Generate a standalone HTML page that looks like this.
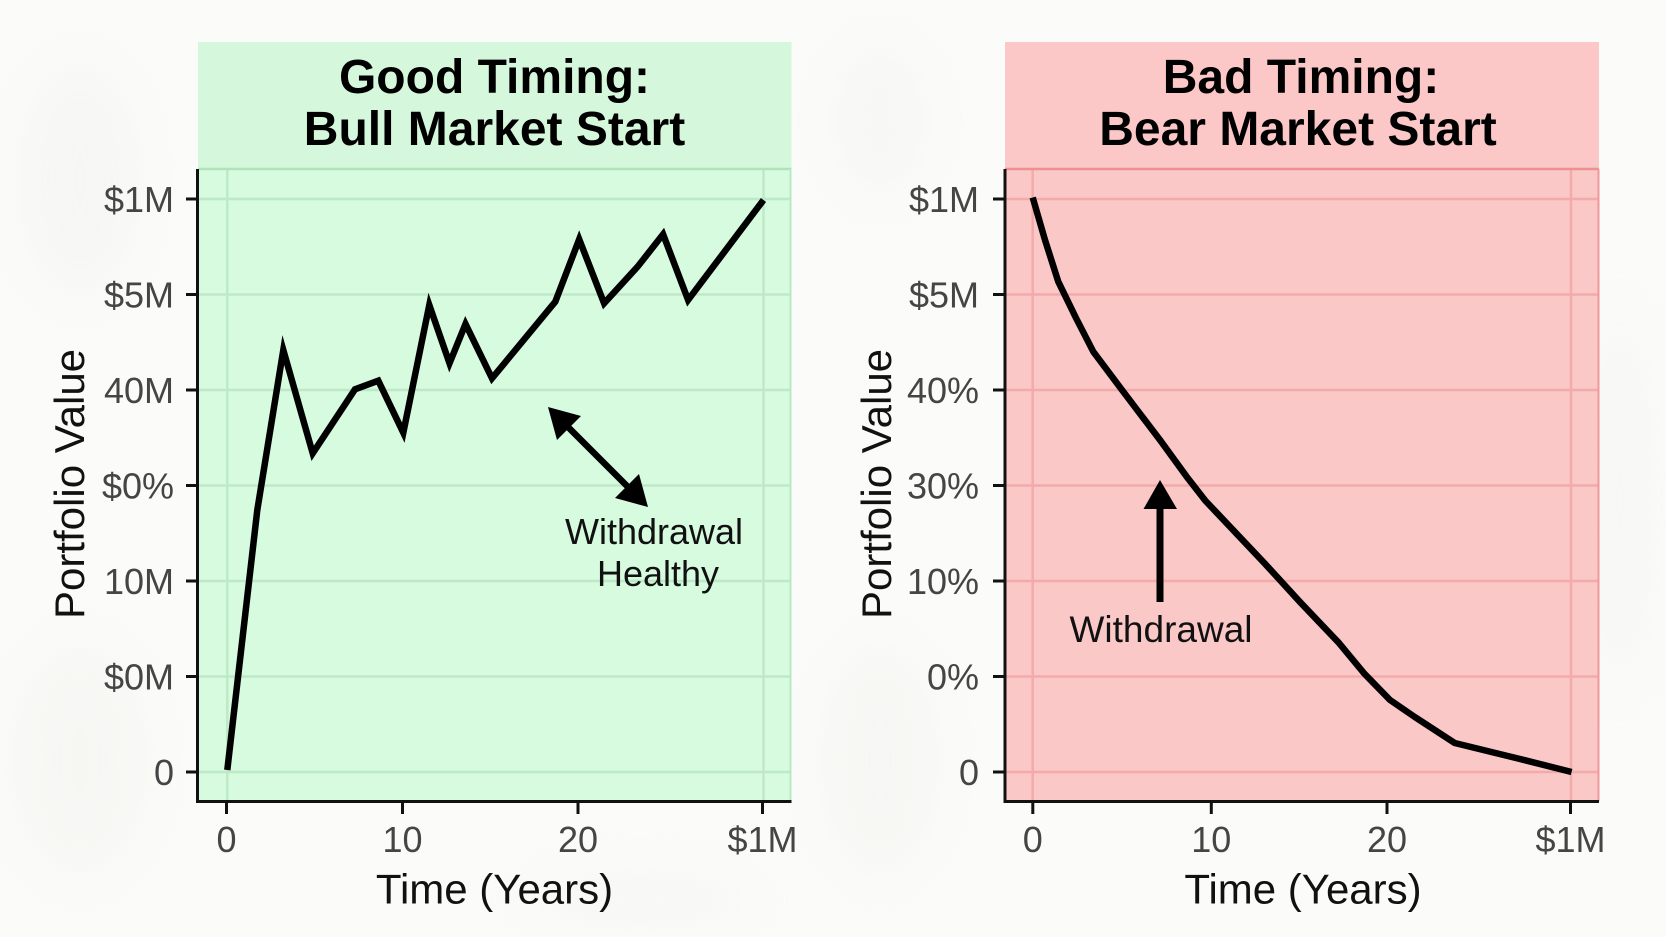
<!DOCTYPE html>
<html>
<head>
<meta charset="utf-8">
<style>
  html,body{margin:0;padding:0;background:#fbfbf9;}
  svg{display:block;}
  text{font-family:"Liberation Sans", Arial, sans-serif;}
</style>
</head>
<body>
<svg width="1666" height="937" viewBox="0 0 1666 937" xmlns="http://www.w3.org/2000/svg">
  <defs>
    <filter id="blur" x="-50%" y="-50%" width="200%" height="200%"><feGaussianBlur stdDeviation="25"/></filter>
  </defs>
  <rect x="0" y="0" width="1666" height="937" fill="#fbfbf9"/>
  <g filter="url(#blur)" opacity="0.35">
    <ellipse cx="80" cy="180" rx="60" ry="120" fill="#eeeeea"/>
    <ellipse cx="80" cy="760" rx="70" ry="120" fill="#efefea"/>
    <ellipse cx="880" cy="120" rx="50" ry="80" fill="#f0f0ec"/>
    <ellipse cx="880" cy="760" rx="60" ry="120" fill="#efefea"/>
    <ellipse cx="640" cy="900" rx="120" ry="30" fill="#f0f0ec"/>
    <ellipse cx="1620" cy="500" rx="40" ry="200" fill="#f1f1ed"/>
  </g>

  <!-- ================= LEFT PANEL ================= -->
  <rect x="198" y="42" width="593.5" height="127" fill="#d5f8dc"/>
  <rect x="198" y="169" width="593.5" height="632" fill="#d7fbdf"/>
  <g stroke="#bde9c7" stroke-width="2.5" fill="none">
    <line x1="198" y1="199" x2="791.5" y2="199"/>
    <line x1="198" y1="294.5" x2="791.5" y2="294.5"/>
    <line x1="198" y1="390" x2="791.5" y2="390"/>
    <line x1="198" y1="485.5" x2="791.5" y2="485.5"/>
    <line x1="198" y1="581" x2="791.5" y2="581"/>
    <line x1="198" y1="676.5" x2="791.5" y2="676.5"/>
    <line x1="198" y1="772" x2="791.5" y2="772"/>
    <line x1="227.3" y1="169" x2="227.3" y2="801"/>
    <line x1="763.5" y1="169" x2="763.5" y2="801"/>
  </g>
  <line x1="198" y1="169" x2="791.5" y2="169" stroke="#afe3bb" stroke-width="2.5"/>
  <line x1="790.5" y1="169" x2="790.5" y2="801" stroke="#b8e8c3" stroke-width="2"/>
  <!-- axes -->
  <g stroke="#111" stroke-width="3" fill="none">
    <line x1="197.5" y1="169" x2="197.5" y2="803"/>
    <line x1="196" y1="801.5" x2="791.5" y2="801.5"/>
    <line x1="186" y1="199" x2="198" y2="199"/>
    <line x1="186" y1="294.5" x2="198" y2="294.5"/>
    <line x1="186" y1="390" x2="198" y2="390"/>
    <line x1="186" y1="485.5" x2="198" y2="485.5"/>
    <line x1="186" y1="581" x2="198" y2="581"/>
    <line x1="186" y1="676.5" x2="198" y2="676.5"/>
    <line x1="186" y1="772" x2="198" y2="772"/>
    <line x1="226.5" y1="801" x2="226.5" y2="814"/>
    <line x1="402.5" y1="801" x2="402.5" y2="814"/>
    <line x1="578" y1="801" x2="578" y2="814"/>
    <line x1="762.5" y1="801" x2="762.5" y2="814"/>
  </g>
  <g font-size="36" fill="#454545" text-anchor="end">
    <text x="174" y="212">$1M</text>
    <text x="174" y="307.5">$5M</text>
    <text x="174" y="403">40M</text>
    <text x="174" y="498.5">$0%</text>
    <text x="174" y="594">10M</text>
    <text x="174" y="689.5">$0M</text>
    <text x="174" y="785">0</text>
  </g>
  <g font-size="36" fill="#454545" text-anchor="middle">
    <text x="226.5" y="852">0</text>
    <text x="402.5" y="852">10</text>
    <text x="578" y="852">20</text>
    <text x="762.5" y="852">$1M</text>
  </g>
  <text x="494.5" y="93" font-size="48" font-weight="bold" fill="#000" text-anchor="middle">Good Timing:</text>
  <text x="494.5" y="145" font-size="48" font-weight="bold" fill="#000" text-anchor="middle">Bull Market Start</text>
  <text x="494.5" y="903.5" font-size="42" fill="#111" text-anchor="middle">Time (Years)</text>
  <text transform="translate(84,484) rotate(-90)" font-size="42" fill="#111" text-anchor="middle">Portfolio Value</text>

  <polyline fill="none" stroke="#000" stroke-width="6.5" stroke-linejoin="miter" stroke-miterlimit="6" stroke-linecap="butt"
    points="227.3,770 257.3,510 283.3,350 312.7,453.3 355,389.3 378.3,380.7 403.3,432.7 429.3,305 449.5,363.3 465.5,324 492,378.3 555.3,301.7 579.2,239.3 604.1,303.3 637.6,266.7 663.1,234.3 688.1,300 763.5,200"/>

  <!-- double arrow -->
  <line x1="565" y1="424" x2="631" y2="490" stroke="#000" stroke-width="6.5"/>
  <polygon points="548,407 581,416 557,440" fill="#000"/>
  <polygon points="648,507 615,498 639,474" fill="#000"/>
  <text x="654" y="544" font-size="36" fill="#111" text-anchor="middle">Withdrawal</text>
  <text x="658" y="586" font-size="36" fill="#111" text-anchor="middle">Healthy</text>

  <!-- ================= RIGHT PANEL ================= -->
  <rect x="1005" y="42" width="594" height="127" fill="#fbc7c7"/>
  <rect x="1005" y="169" width="594" height="632" fill="#fbc8c8"/>
  <g stroke="#f3aaaa" stroke-width="2.5" fill="none">
    <line x1="1005" y1="199" x2="1599" y2="199"/>
    <line x1="1005" y1="294.5" x2="1599" y2="294.5"/>
    <line x1="1005" y1="390" x2="1599" y2="390"/>
    <line x1="1005" y1="485.5" x2="1599" y2="485.5"/>
    <line x1="1005" y1="581" x2="1599" y2="581"/>
    <line x1="1005" y1="676.5" x2="1599" y2="676.5"/>
    <line x1="1005" y1="772" x2="1599" y2="772"/>
    <line x1="1032.7" y1="169" x2="1032.7" y2="801"/>
    <line x1="1571" y1="169" x2="1571" y2="801"/>
  </g>
  <line x1="1005" y1="169" x2="1599" y2="169" stroke="#ec9090" stroke-width="2.5"/>
  <line x1="1598.5" y1="169" x2="1598.5" y2="801" stroke="#ee9a9a" stroke-width="2"/>
  <g stroke="#111" stroke-width="3" fill="none">
    <line x1="1005" y1="169" x2="1005" y2="803"/>
    <line x1="1003.5" y1="801.5" x2="1599" y2="801.5"/>
    <line x1="993" y1="199" x2="1005" y2="199"/>
    <line x1="993" y1="294.5" x2="1005" y2="294.5"/>
    <line x1="993" y1="390" x2="1005" y2="390"/>
    <line x1="993" y1="485.5" x2="1005" y2="485.5"/>
    <line x1="993" y1="581" x2="1005" y2="581"/>
    <line x1="993" y1="676.5" x2="1005" y2="676.5"/>
    <line x1="993" y1="772" x2="1005" y2="772"/>
    <line x1="1032.8" y1="801" x2="1032.8" y2="814"/>
    <line x1="1211.3" y1="801" x2="1211.3" y2="814"/>
    <line x1="1387" y1="801" x2="1387" y2="814"/>
    <line x1="1570.5" y1="801" x2="1570.5" y2="814"/>
  </g>
  <g font-size="36" fill="#454545" text-anchor="end">
    <text x="979" y="212">$1M</text>
    <text x="979" y="307.5">$5M</text>
    <text x="979" y="403">40%</text>
    <text x="979" y="498.5">30%</text>
    <text x="979" y="594">10%</text>
    <text x="979" y="689.5">0%</text>
    <text x="979" y="785">0</text>
  </g>
  <g font-size="36" fill="#454545" text-anchor="middle">
    <text x="1032.8" y="852">0</text>
    <text x="1211.3" y="852">10</text>
    <text x="1387" y="852">20</text>
    <text x="1570.5" y="852">$1M</text>
  </g>
  <text x="1301" y="93" font-size="48" font-weight="bold" fill="#000" text-anchor="middle">Bad Timing:</text>
  <text x="1298" y="145" font-size="48" font-weight="bold" fill="#000" text-anchor="middle">Bear Market Start</text>
  <text x="1303" y="903.5" font-size="42" fill="#111" text-anchor="middle">Time (Years)</text>
  <text transform="translate(891,484) rotate(-90)" font-size="42" fill="#111" text-anchor="middle">Portfolio Value</text>

  <polyline fill="none" stroke="#000" stroke-width="6.5" stroke-linejoin="round" stroke-linecap="butt"
    points="1032.7,197.5 1045,240 1058.3,281.7 1076,318 1093.3,351.7 1123.3,391.7 1160,440 1186.7,476.7 1205,500.3 1264.4,563.1 1300,602 1338.8,642.8 1364.4,673.7 1390,700 1414.8,717 1454.7,743 1520,759 1571.6,772"/>

  <!-- up arrow -->
  <line x1="1160" y1="602" x2="1160" y2="505" stroke="#000" stroke-width="7"/>
  <polygon points="1143.5,509 1160,480 1177,509" fill="#000"/>
  <text x="1161" y="642" font-size="37" fill="#111" text-anchor="middle">Withdrawal</text>
</svg>
</body>
</html>
